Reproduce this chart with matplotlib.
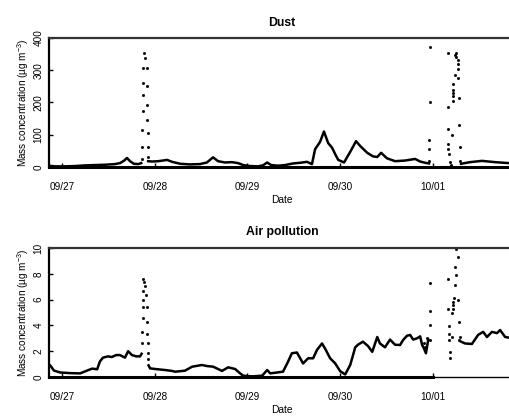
"""
Dust and air pollution mass concentrations, 27 Sep - 1 Oct.
"""

import numpy as np
import matplotlib
matplotlib.use("Agg")
import matplotlib.pyplot as plt

plt.rcParams["font.family"] = "Liberation Sans"
plt.rcParams["mathtext.fontset"] = "custom"
plt.rcParams["mathtext.rm"] = "Liberation Sans"
plt.rcParams["mathtext.it"] = "Liberation Sans:italic"

# time in hours since 09/27 00:00; NaN marks the gaps between the smooth parts
dust_hours = [-3.4, -1.8, 0.8, 3.4, 6.0, 8.5, 11.1, 13.7, 15.0, 16.1, 16.8,
              17.6, 18.6, 19.7, 20.5, np.nan,
              22.3, 23.3, 24.9, 26.1, 27.2, 28.5, 30.6, 33.1, 35.7, 37.5,
              39.1, 40.4, 42.2, 44.0, 45.6, 46.9, 48.7, 50.7, 52.0, 53.1,
              54.1, 55.9, 57.7, 59.8, 61.6, 63.4, 64.7, 65.5, 66.8, 67.8,
              68.9, 69.9, 70.7, 71.5, 73.0, 74.6, 76.1, 77.2, 79.0, 80.5,
              81.6, 82.6, 84.1, 86.2, 88.8, 91.4, 92.7, 94.0, 95.0, np.nan,
              103.3, 105.6, 108.7, 112.1, 115.7]
dust_vals = [4, 2, 2, 3, 5, 6, 7, 9, 12, 20, 28,
             18, 10, 9, 12, np.nan,
             18, 17, 18, 20, 22, 16, 10, 8, 9, 14,
             30, 18, 14, 15, 12, 6, 3, 2, 5, 14,
             6, 4, 6, 11, 13, 16, 9, 55, 78, 110,
             74, 60, 40, 22, 14, 47, 80, 65, 44, 33,
             31, 44, 27, 18, 20, 25, 17, 13, 11, np.nan,
             10, 15, 19, 15, 12]

# isolated readings during the fast rises
dust_spike_hours = [21.2, 21.4, 21.0, 21.9, 20.9, 21.9, 20.9, 21.9, 20.9,
                    22.1, 20.7, 22.2, 20.6, 22.2, 20.6, 22.2,
                    95.3, 95.3, 95.1, 95.1, 95.1,
                    99.9, 99.9, 100.0, 100.0, 100.0, 100.2, 100.5, 100.6,
                    100.9, 101.7, 101.7, 102.0, 102.1, 102.4, 102.4, 102.4,
                    102.6, 101.2, 101.2, 101.2, 101.2, 101.1, 102.8, 102.8,
                    103.0, 103.0]
dust_spike_vals = [353, 339, 306, 306, 261, 251, 223, 192, 175,
                   146, 115, 106, 63, 63, 24, 30,
                   371, 202, 84, 55, 20,
                   354, 187, 117, 71, 56, 40, 16, 6,
                   99, 347, 285, 354, 340, 332, 319, 303,
                   275, 257, 239, 228, 220, 205, 213, 130,
                   61, 20]

air_hours = [-3.4, -2.8, -2.1, -0.5, 2.1, 4.7, 6.5, 7.8, 9.1, 9.8, 10.6,
             11.9, 12.9, 14.0, 15.0, 16.3, 17.1, 18.1, 19.2, 20.2, 20.6,
             np.nan,
             22.4, 22.8, 24.1, 26.7, 28.5, 29.3, 31.8, 33.7, 36.2, 37.5,
             39.1, 40.4, 41.4, 43.0, 44.8, 46.1, 46.9, 49.2, 51.8, 53.1,
             53.9, 57.2, 58.3, 59.5, 60.8, 62.4, 63.7, 65.0, 66.0, 67.3,
             68.1, 69.4, 70.7, 72.0, 73.3, 74.6, 75.9, 76.6, 77.9, 79.2,
             80.3, 81.6, 82.3, 83.6, 84.9, 86.2, 87.5, 88.3, 89.3, 90.1,
             90.9, 91.9, 92.7, 93.2, 93.7, 94.2, 94.8, np.nan,
             103.3, 104.3, 106.1, 107.7, 109.0, 110.0, 111.3, 112.6, 113.4,
             114.7, 115.7]
air_vals = [1.0, 0.8, 0.5, 0.35, 0.3, 0.28, 0.5, 0.65, 0.6, 1.2, 1.5,
            1.6, 1.55, 1.7, 1.7, 1.5, 2.0, 1.7, 1.6, 1.6, 1.8,
            np.nan,
            0.9, 0.67, 0.62, 0.54, 0.47, 0.41, 0.49, 0.8, 0.93, 0.85,
            0.8, 0.62, 0.47, 0.75, 0.62, 0.28, 0.1, 0.05, 0.1, 0.54,
            0.28, 0.41, 1.06, 1.84, 1.9, 1.05, 1.45, 1.45, 2.1, 2.6,
            2.2, 1.45, 1.06, 0.45, 0.2, 0.93, 2.3, 2.5, 2.74, 2.4,
            1.95, 3.1, 2.6, 2.3, 2.9, 2.5, 2.48, 2.87, 3.2, 3.26,
            2.9, 3.0, 3.15, 2.5, 2.2, 1.84, 2.9, np.nan,
            2.74, 2.6, 2.56, 3.26, 3.5, 3.1, 3.5, 3.4, 3.64,
            3.1, 3.05]

air_spike_hours = [21.0, 21.2, 21.6, 21.0, 21.7, 20.9, 20.9, 21.9, 20.9,
                   21.9, 20.7, 22.1, 20.6, 22.2, 22.3, 22.3,
                   93.6, 94.0, 94.5, 95.3, 95.3, 95.3, 95.3,
                   99.9, 100.0, 100.1, 100.2, 100.2, 100.5, 100.5, 100.9,
                   100.9, 101.2, 101.2, 101.2, 101.4, 101.7, 101.7, 102.1,
                   102.1, 102.6, 102.6, 102.8, 102.8, 103.0]
air_spike_vals = [7.57, 7.4, 7.05, 6.7, 6.36, 6.0, 5.4, 5.4, 4.55,
                  4.3, 3.5, 3.3, 2.6, 2.6, 1.84, 1.37,
                  2.6, 2.3, 3.0, 7.26, 5.14, 4.03, 2.87,
                  7.57, 5.25, 3.95, 3.33, 2.87, 1.9, 1.45, 3.08,
                  4.94, 5.84, 5.6, 5.3, 6.1, 8.55, 7.13, 9.9,
                  7.9, 9.3, 6.0, 4.3, 2.87, 3.1]

day_ticks = [0, 24, 48, 72, 96]
day_labels = ["09/27", "09/28", "09/29", "09/30", "10/01"]


def panel(ax, hours, vals, spike_hours, spike_vals, title, ylim, yticks):
    """Draw one concentration series with the base-graphics look."""
    ax.plot(hours, vals, color="black", lw=1.8, solid_joinstyle="round")
    ax.plot(spike_hours, spike_vals, ls="none", marker="s", ms=1.0,
            mec="black", mfc="black")
    ax.set_xlim(-3.37, 115.7)
    ax.set_ylim(*ylim)
    ax.set_xticks(day_ticks)
    ax.set_xticklabels(day_labels)
    ax.set_yticks(yticks)
    ax.set_yticklabels([str(t) for t in yticks], rotation=90, va="center")
    ax.tick_params(direction="in", length=3, width=1, labelsize=7.2)
    ax.tick_params(axis="x", pad=11)
    ax.tick_params(axis="y", pad=4)
    ax.spines["right"].set_visible(False)
    ax.spines["top"].set_linewidth(1.6)
    ax.spines["top"].set_color("#333333")
    ax.spines["left"].set_linewidth(1.6)
    ax.spines["bottom"].set_linewidth(1.0)
    ax.set_title(title, fontsize=8.8, fontweight="bold", pad=9,
                 x=(282 - 49) / (509 - 49))
    ax.set_xlabel("Date", fontsize=7.4, labelpad=2,
                  x=(282 - 49) / (509 - 49))
    ax.set_ylabel("Mass concentration (µg m$^{-3}$)", fontsize=7.2,
                  labelpad=2)


fig = plt.figure(figsize=(5.09, 4.17), dpi=100)
ax1 = fig.add_axes([49 / 509, 1 - 167 / 417, 460 / 509, 129 / 417])
ax2 = fig.add_axes([49 / 509, 1 - 377 / 417, 460 / 509, 129 / 417])

panel(ax1, dust_hours, dust_vals, dust_spike_hours, dust_spike_vals,
      "Dust", (0, 400), [0, 100, 200, 300, 400])
panel(ax2, air_hours, air_vals, air_spike_hours, air_spike_vals,
      "Air pollution", (0, 10), [0, 2, 4, 6, 8, 10])

# heavy baseline up to the last labelled day
ax1.axhline(0, color="black", lw=2.2, clip_on=False)
ax2.plot([-3.37, 96], [0, 0], color="black", lw=2.2, clip_on=False)

fig.savefig("out.png", dpi=100)
